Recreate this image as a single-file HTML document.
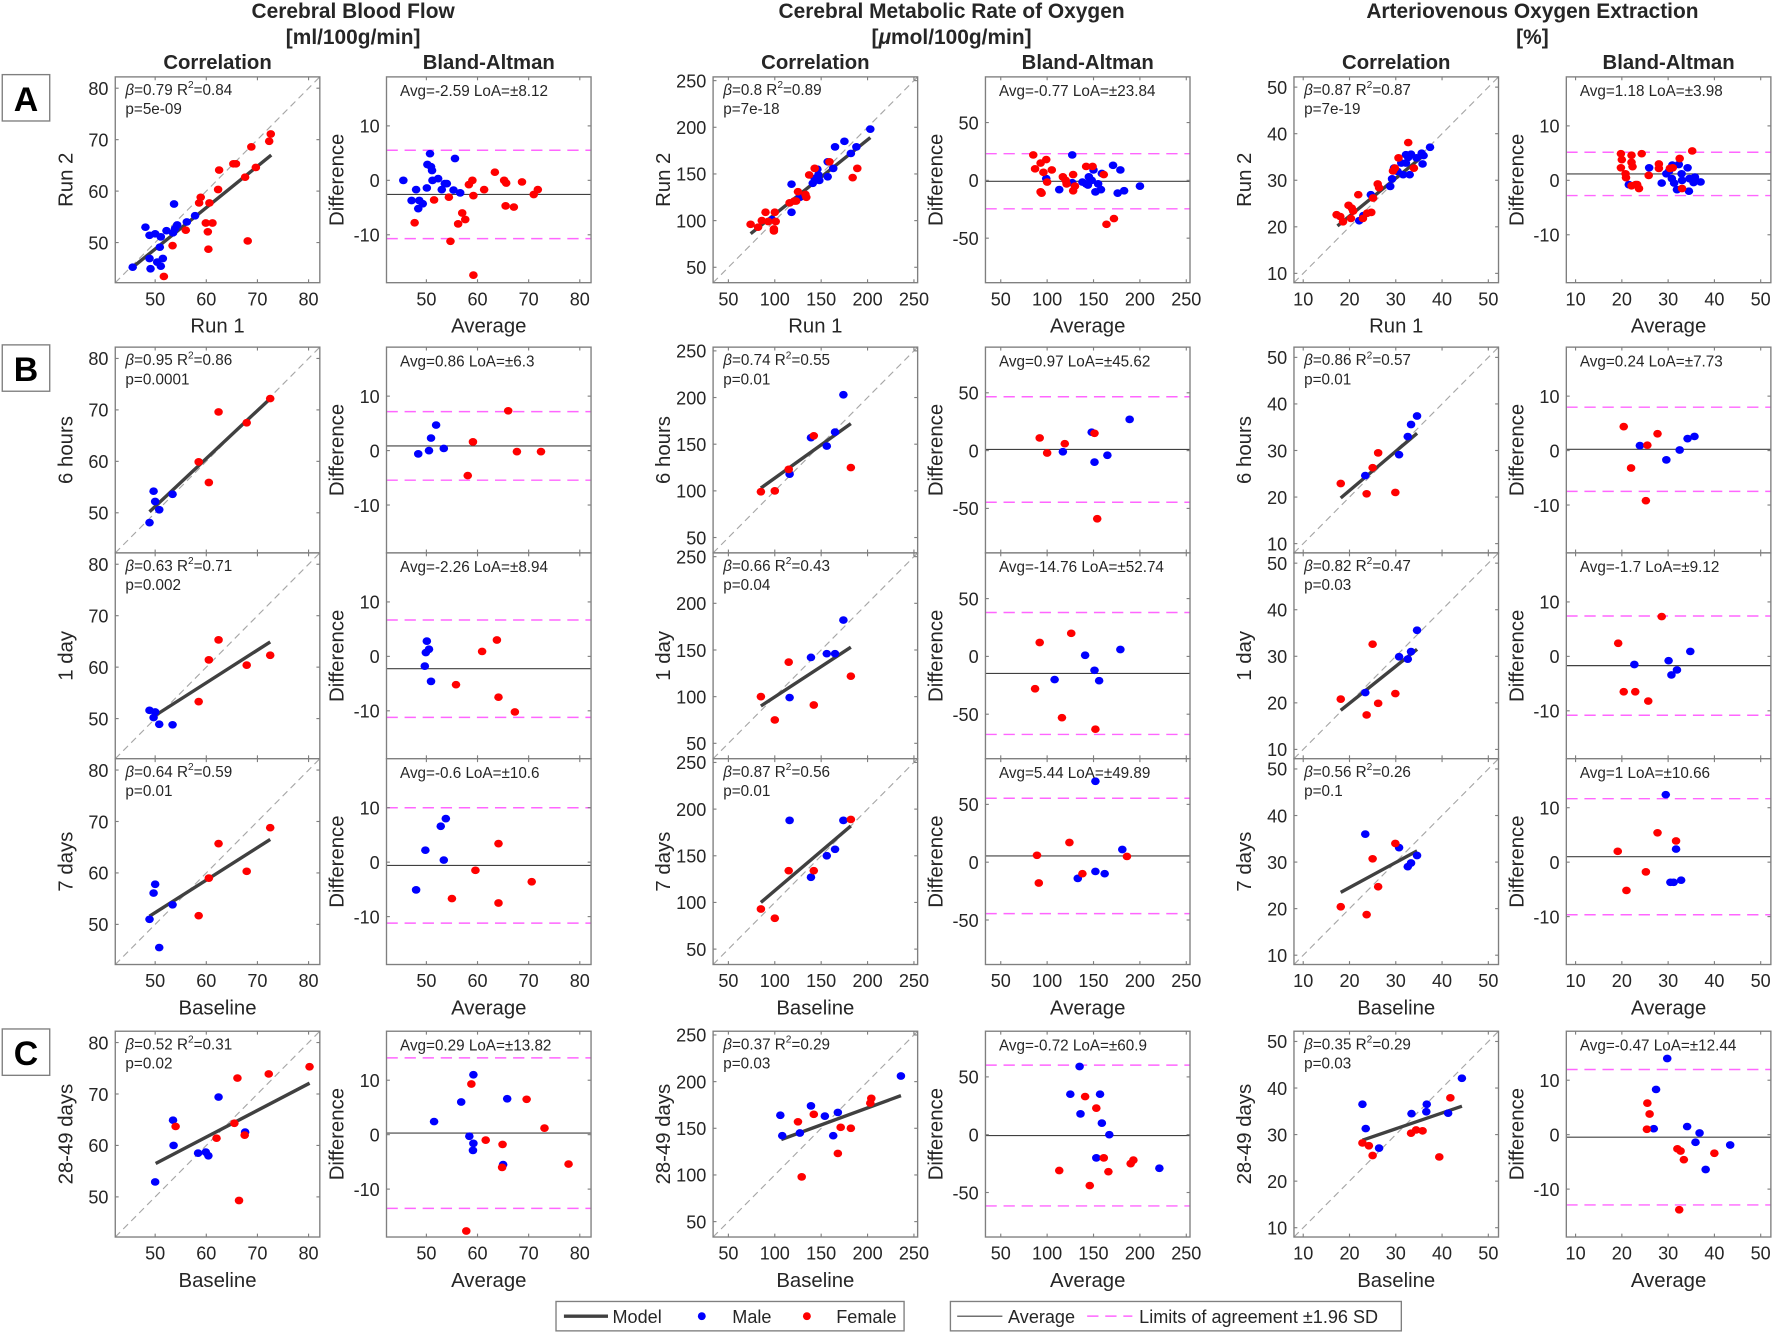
<!DOCTYPE html>
<html><head><meta charset="utf-8"><style>
html,body{margin:0;padding:0;background:#fff;}
svg{display:block;}
text{font-family:"Liberation Sans",Arial,sans-serif;fill:#262626;}
</style></head><body>
<svg id="s" width="1772" height="1332" viewBox="0 0 1568 1178" preserveAspectRatio="none" xmlns="http://www.w3.org/2000/svg"></svg>
<script>
const S=document.getElementById('s');let out='';
function T(x,y,s,size,anchor,extra){out+=`<text x="${x}" y="${y}" font-size="${size}" text-anchor="${anchor||'start'}" ${extra||''}>${s}</text>`;}
const cols=[
 {cx:102,bx:342,cr:[42.2,82.2],ct:[50,60,70,80],br:[-18.8,19],bt:[-10,0,10],title:['Cerebral Blood Flow','[ml/100g/min]']},
 {cx:631,bx:872,cr:[33.5,254],ct:[50,100,150,200,250],br:[-88.5,89.5],bt:[-50,0,50],title:['Cerebral Metabolic Rate of Oxygen','[<tspan font-style="italic">μ</tspan>mol/100g/min]']},
 {cx:1145,bx:1386,cr:[8,52.2],ct:[10,20,30,40,50],br:[-18.8,19],bt:[-10,0,10],title:['Arteriovenous Oxygen Extraction','[%]']}
];
const W=181,H=182;
const rows=[{y:68,yl:'Run 2',xl:['Run 1','Average'],xt:true},{y:307,yl:'6 hours',xt:false},{y:489,yl:'1 day',xt:false},{y:671,yl:'7 days',xl:['Baseline','Average'],xt:true},{y:912,yl:'28-49 days',xl:['Baseline','Average'],xt:true}];
// data: [row][col] = {c:{b,r,l,t1,t2},a:{b,r,avg,loa}}
const D=[
[ // row A
 {c:{b:[[45.6,45.2],[48.1,53],[48.9,51.4],[50,51.7],[48.9,46.9],[49.1,44.9],[50.4,46.2],[51.1,45.4],[51.5,46.9],[51.1,51.1],[50.9,49.1],[52.2,52.3],[53.7,57.5],[53.5,51.9],[53.9,52.7],[54.3,53.4],[56.2,54],[57.8,55.2]],
  r:[[51.7,43.4],[53.4,49.4],[56,52.4],[58.6,57.7],[58.9,58.8],[60.6,57.7],[59.9,53.8],[61.2,53.8],[60.3,52.1],[60.4,48.7],[62.3,60.3],[62.5,64.1],[65.3,65.3],[65.8,65.3],[67.6,62.7],[68.1,50.3],[68.8,68.6],[69.7,64.6],[72.3,69.7],[72.6,71.1]],
  l:[45.6,45.2,72.7,67],t:['0.79','0.84','5e-09']},
  a:{b:[[45.5,0],[47.1,-3.7],[48,-1.7],[48.4,-5.2],[48.6,-3.7],[49.3,-4.3],[50.1,-1.4],[50.2,2.9],[50.7,4.9],[50.9,2.5],[51.1,1.8],[51.2,0],[52.3,0.3],[53,-1.7],[53.6,-0.6],[54,-0.6],[55.3,-1.8],[55.6,4],[56.6,-2.3]],
  r:[[47.7,-7.8],[51.5,-3.6],[54.4,-3.1],[54.7,-11.2],[56.2,-8],[57,-6],[57.6,-7.2],[58.3,-0.8],[59,0],[59.2,-2.8],[59.2,-17.4],[61.3,-1.7],[63.4,1.5],[65.2,0],[65.5,-4.7],[65.6,-0.5],[67.1,-4.9],[68.7,-0.3],[71,-2.6],[71.8,-1.7]],avg:-2.59,loa:8.12}},
 {c:{b:[[97,101],[118,139],[118,109],[127,125],[141,140],[143,145],[147,149],[148,143],[146,155],[157,147],[157,163],[163,156],[165,179],[175,185],[182,172],[188,179],[203,198]],
  r:[[74,96],[82,93],[86,100],[90,109],[93,99],[99,89],[99,91],[100,109],[101,99],[116,119],[121,121],[123,121],[125,131],[133,128],[134,125],[137,149],[143,156],[159,163],[184,146],[189,156]],
  l:[74,86,203,189],t:['0.8','0.89','7e-18']},
  a:{b:[[99,1.5],[113,-8],[127,22],[127,-2],[138,-1.5],[142,-3],[145,3],[144,-4],[148,0],[150,9],[152,-10],[155,-3],[158,-8],[159,6],[171,13],[176,-11],[179,9],[183,-9],[200,-5]],
  r:[[85,22],[87,10],[93,15],[96,7],[99,18],[100,-1.5],[93,-10],[94,-11],[105,9],[117,3],[120,0],[121,-3],[128,5],[128,-9],[130,-5],[142,12],[149,12],[161,5],[164,-38],[172,-33]],avg:-0.77,loa:23.84}},
 {c:{b:[[22.1,21.3],[23,22.4],[24.6,26.9],[28.8,28.7],[29.2,30.3],[29.6,32.6],[30.4,31.9],[31.2,33.7],[31.6,31.2],[32.2,33.7],[32.7,34.9],[33,31.2],[33.3,35.6],[34.5,34.8],[35.6,35.8],[35.8,33.5],[36,35.3],[37.4,37.1],[32.2,35.5]],
  r:[[17.2,22.6],[18,22.2],[18.6,21.1],[19.8,24.6],[20.3,21.8],[20.5,24],[20.8,23.4],[21.9,26.9],[22.9,21.8],[23.8,22.9],[24.7,23.1],[25.1,26.2],[26.1,29.2],[26.4,28.4],[29.4,32],[29.8,32.6],[30.6,34.8],[32.7,38.1],[33.9,32.6]],
  l:[17.4,20.2,36,35.3],t:['0.87','0.87','7e-19']},
  a:{b:[[21.5,-0.8],[25.9,2.3],[28.6,-0.5],[29.6,1.2],[30.2,1.7],[30.8,0.3],[31.3,-0.5],[30.9,2.8],[31.9,-1.7],[32.3,2.9],[32.9,1.2],[33,0],[34.2,2.3],[34.5,-2],[34.6,0.3],[35.5,-0.4],[35.8,0.6],[37,-0.3]],
  r:[[19.8,4.9],[20,3.8],[19.8,2.3],[20.8,1.2],[20.9,0.5],[22.1,4.6],[22.1,3.3],[22.3,2.5],[22.1,-1],[23,-0.8],[23.3,-0.8],[23.7,-1.5],[24.3,4.9],[25.8,0.9],[28,3],[28,2.2],[30.4,2.2],[31,2.3],[32.5,4],[33,-1.5],[35.2,5.4]],avg:1.18,loa:3.98}}
],
[ // 6 hours
 {c:{b:[[48.9,48.1],[49.7,54.2],[50,52.2],[50.8,50.6],[53.4,53.6]],r:[[58.5,59.9],[60.5,55.9],[62.4,69.6],[67.9,67.5],[72.5,72.2]],l:[48.9,50.2,72.5,72.2],t:['0.95','0.86','0.0001']},
  a:{b:[[48.4,-0.6],[50.5,0],[50.9,2.3],[51.9,4.7],[53.4,0.4]],r:[[58.1,-4.6],[59.1,1.6],[66,7.3],[67.7,-0.2],[72.4,-0.2]],avg:0.86,loa:6.3}},
 {c:{b:[[116,118],[139,157],[156,148],[165,163],[174,203]],r:[[85,99],[100,100],[115,123],[142,159],[182,125]],l:[85,103,182,172],t:['0.74','0.55','0.01']},
  a:{b:[[117,-1],[148,16],[151,-10],[165,-4],[189,27]],r:[[92,11],[100,-2],[119,6],[151,15],[154,-59]],avg:0.97,loa:45.62}},
 {c:{b:[[23.4,24.6],[30.7,29.1],[32.6,33],[33.3,35.6],[34.6,37.4]],r:[[18.1,22.9],[23.7,20.7],[25,26.3],[26.2,29.5],[29.9,21]],l:[18.1,19.8,34.6,33.7],t:['0.86','0.57','0.01']},
  a:{b:[[23.9,0.9],[29.6,-1.7],[32.5,0.1],[34.2,2.2],[35.7,2.6]],r:[[20.4,4.4],[22,-3.2],[25.2,-9.2],[25.5,1],[27.7,3.1]],avg:0.24,loa:7.73}}
],
[ // 1 day
 {c:{b:[[48.9,51.6],[50,51.3],[49.7,50.2],[50.8,48.9],[53.4,48.8]],r:[[58.5,53.3],[60.5,61.4],[62.4,65.3],[67.9,60.4],[72.5,62.3]],l:[50,50.6,72.5,64.9],t:['0.63','0.71','0.002']},
  a:{b:[[49.7,-1.8],[49.9,0.7],[50.1,2.8],[50.5,1.3],[50.9,-4.6]],r:[[55.8,-5.2],[60.9,0.9],[63.8,3],[64.1,-7.5],[67.3,-10.2]],avg:-2.26,loa:8.94}},
 {c:{b:[[116,99],[139,142],[156,146],[165,146],[174,182]],r:[[85,100],[100,75],[115,137],[142,91],[182,122]],l:[85,90,182,153],t:['0.66','0.43','0.04']},
  a:{b:[[108,-20],[141,1],[151,-12],[156,-21],[179,6]],r:[[87,-28],[92,12],[116,-53],[126,20],[152,-63]],avg:-14.76,loa:52.74}},
 {c:{b:[[23.4,22.2],[30.7,29.9],[32.6,29.4],[33.3,31],[34.6,35.6]],r:[[18.1,20.8],[23.7,17.4],[25,32.6],[26.2,19.9],[29.9,22]],l:[18.1,18.4,34.6,31.5],t:['0.82','0.47','0.03']},
  a:{b:[[22.7,-1.5],[30.1,-0.8],[30.7,-3.4],[31.9,-2.5],[34.8,0.9]],r:[[19.2,2.4],[20.4,-6.5],[22.9,-6.5],[25.7,-8.2],[28.6,7.3]],avg:-1.7,loa:9.12}}
],
[ // 7 days
 {c:{b:[[48.9,51],[49.7,56.1],[50,57.8],[53.4,53.8],[50.8,45.5]],r:[[58.5,51.7],[60.5,59],[62.4,65.7],[67.9,60.3],[72.5,68.8]],l:[48.9,51.6,72.5,66.5],t:['0.64','0.59','0.01']},
  a:{b:[[48,-5.1],[49.8,2.2],[52.8,6.6],[53.8,8],[53.4,0.4]],r:[[55,-6.7],[59.6,-1.5],[64.1,3.4],[64.1,-7.5],[70.6,-3.6]],avg:-0.6,loa:10.6}},
 {c:{b:[[116,188],[139,127],[156,150],[165,157],[174,188]],r:[[85,93],[100,83],[115,134],[142,134],[182,189]],l:[85,100,182,182],t:['0.87','0.56','0.01']},
  a:{b:[[133,-14],[152,70],[152,-8],[162,-10],[181,11]],r:[[89,6],[91,-18],[124,17],[138,-10],[186,5]],avg:5.44,loa:49.89}},
 {c:{b:[[23.4,36],[30.7,33.1],[32.6,29],[33.3,29.8],[34.6,31.4]],r:[[18.1,20.4],[23.7,18.7],[25,30.7],[26.2,24.7],[29.9,34]],l:[18.1,23.5,34.6,32.4],t:['0.56','0.26','0.1']},
  a:{b:[[29.5,12.4],[31.7,2.4],[30.5,-3.7],[31.2,-3.7],[32.8,-3.3]],r:[[19.1,2],[21,-5.2],[25.2,-1.8],[27.7,5.4],[31.7,3.9]],avg:1,loa:10.66}}
],
[ // C
 {c:{b:[[50,52.9],[53.5,64.9],[53.6,60],[58.4,58.5],[59.9,58.7],[60.4,58],[62.4,69.4],[67.6,62.6]],r:[[54,63.7],[62,61.4],[65.5,64.3],[66.1,73.1],[66.4,49.3],[67.5,62],[72.2,73.9],[80.2,75.3]],l:[50.1,56.5,80.2,72.1],t:['0.52','0.31','0.02']},
  a:{b:[[51.5,2.4],[56.8,6],[58.4,-0.3],[59.2,11],[59.2,-1.6],[59.1,-2.9],[65,-5.5],[65.8,6.6]],r:[[58.8,9.3],[57.8,-17.7],[61.6,-1],[64.9,-1.8],[64.8,-6],[69.6,6.5],[73.1,1.2],[77.8,-5.4]],avg:0.29,loa:13.82}},
 {c:{b:[[106,164],[108,142],[127,145],[139,174],[154,163],[163,142],[168,167],[236,206]],r:[[125,157],[129,98],[142,165],[168,123],[171,151],[182,150],[203,177],[204,182]],l:[107,138,236,185],t:['0.37','0.29','0.03']},
  a:{b:[[135,59],[125,35],[136,18],[157,35],[159,10],[167,0],[153,-20],[221,-29]],r:[[113,-31],[141,33],[153,23],[146,-44],[161,-20],[166,-32],[190,-25],[193,-22]],avg:-0.72,loa:60.9}},
 {c:{b:[[22.8,36.5],[23.5,31.3],[26.4,27.1],[33.4,34.5],[36.7,36.5],[36.6,34.9],[41.3,34.6],[44.3,42.1]],r:[[22.8,28.2],[24.2,27.6],[25,25.5],[33.3,30.3],[34.4,31],[35.8,30.8],[39.4,25.2],[41.8,37.9]],l:[22.8,28.8,44.3,36.1],t:['0.35','0.29','0.03']},
  a:{b:[[29.8,14],[27.4,8.3],[26.9,1.1],[34.1,1.5],[36.8,0.3],[35.9,-1.4],[43.4,-1.9],[38.1,-6.4]],r:[[25.5,5.8],[26,3.8],[25.4,1],[32,-2.6],[32.7,-3],[33.4,-4.6],[40,-3.4],[32.4,-13.8]],avg:-0.47,loa:12.44}}
]];
const ax='#262626',frame='#7f7f7f';
function panel(x0,y0,xr,yr,xt,yt,showX,draw){
  const X=v=>x0+(v-xr[0])/(xr[1]-xr[0])*W, Y=v=>y0+H-(v-yr[0])/(yr[1]-yr[0])*H;
  out+=`<rect x="${x0}" y="${y0}" width="${W}" height="${H}" fill="#fff"/>`;
  draw(X,Y);
  out+=`<rect x="${x0}" y="${y0}" width="${W}" height="${H}" fill="none" stroke="${frame}" stroke-width="1.2"/>`;
  xt.forEach(v=>{const x=X(v);out+=`<line x1="${x}" y1="${y0+H}" x2="${x}" y2="${y0+H-3}" stroke="${frame}"/><line x1="${x}" y1="${y0}" x2="${x}" y2="${y0+3}" stroke="${frame}"/>`;
    if(showX)T(x,y0+H+20,v,16,'middle');});
  yt.forEach(v=>{const y=Y(v);out+=`<line x1="${x0}" y1="${y}" x2="${x0+3}" y2="${y}" stroke="${frame}"/><line x1="${x0+W}" y1="${y}" x2="${x0+W-3}" y2="${y}" stroke="${frame}"/>`;
    T(x0-6,y+6,v,16,'end');});
}
function dots(X,Y,arr,col){arr.forEach(p=>{out+=`<ellipse cx="${X(p[0]).toFixed(1)}" cy="${Y(p[1]).toFixed(1)}" rx="3.8" ry="3.4" fill="${col}"/>`;});}
// titles
cols.forEach(c=>{const mid=(c.cx+c.bx+W)/2;
  T(mid,16,c.title[0],18.5,'middle','font-weight="bold"');T(mid,39,c.title[1],18.5,'middle','font-weight="bold"');
  T(c.cx+W/2,61,'Correlation',18,'middle','font-weight="bold"');T(c.bx+W/2,61,'Bland-Altman',18,'middle','font-weight="bold"');});
// panel labels
[['A',66],['B',305],['C',910]].forEach(([s,y])=>{out+=`<rect x="2" y="${y}" width="42" height="41" fill="#fff" stroke="${frame}" stroke-width="1.2"/>`;T(23,y+32,s,30,'middle','font-weight="bold" style="fill:#000"');});
rows.forEach((r,ri)=>{cols.forEach((c,ci)=>{const d=D[ri][ci];
  panel(c.cx,r.y,c.cr,c.cr,c.ct,c.ct,r.xt,(X,Y)=>{
    out+=`<line x1="${X(c.cr[0])}" y1="${Y(c.cr[0])}" x2="${X(c.cr[1])}" y2="${Y(c.cr[1])}" stroke="#a6a6a6" stroke-width="1" stroke-dasharray="6,4"/>`;
    const l=d.c.l;out+=`<line x1="${X(l[0])}" y1="${Y(l[1])}" x2="${X(l[2])}" y2="${Y(l[3])}" stroke="#404040" stroke-width="3"/>`;
    dots(X,Y,d.c.b,'#0000ff');dots(X,Y,d.c.r,'#ff0000');
  });
  const t=d.c.t;
  out+=`<text x="${c.cx+9}" y="${r.y+16}" font-size="13.5"><tspan font-style="italic">β</tspan>=${t[0]} R<tspan dy="-6" font-size="9">2</tspan><tspan dy="6">=${t[1]}</tspan></text>`;
  T(c.cx+9,r.y+33,'p='+t[2],13.5);
  panel(c.bx,r.y,c.cr,c.br,c.ct,c.bt,r.xt,(X,Y)=>{
    const a=d.a;
    out+=`<line x1="${c.bx}" y1="${Y(a.avg)}" x2="${c.bx+W}" y2="${Y(a.avg)}" stroke="#404040" stroke-width="1"/>`;
    [a.avg+a.loa,a.avg-a.loa].forEach(v=>{out+=`<line x1="${c.bx}" y1="${Y(v)}" x2="${c.bx+W}" y2="${Y(v)}" stroke="#ff66ff" stroke-width="1.3" stroke-dasharray="10,6"/>`;});
    dots(X,Y,a.b,'#0000ff');dots(X,Y,a.r,'#ff0000');
  });
  T(c.bx+12,r.y+17,`Avg=${d.a.avg} LoA=±${d.a.loa}`,13.5);
  // axis labels
  T(0,0,r.yl,18,'middle',`transform="translate(${c.cx-38},${r.y+H/2}) rotate(-90)"`);
  T(0,0,'Difference',18,'middle',`transform="translate(${c.bx-38},${r.y+H/2}) rotate(-90)"`);
  if(r.xl){T(c.cx+W/2,r.y+H+44,r.xl[0],18,'middle');T(c.bx+W/2,r.y+H+44,r.xl[1],18,'middle');}
});});
// legends
out+=`<rect x="492" y="1151" width="308" height="26" fill="#fff" stroke="${frame}" stroke-width="1.2"/>`;
out+=`<line x1="499" y1="1164" x2="538" y2="1164" stroke="#404040" stroke-width="3"/>`;T(542,1170,'Model',16);
out+=`<circle cx="621" cy="1164" r="3.5" fill="#0000ff"/>`;T(648,1170,'Male',16);
out+=`<circle cx="714" cy="1164" r="3.5" fill="#ff0000"/>`;T(740,1170,'Female',16);
out+=`<rect x="841" y="1151" width="399" height="26" fill="#fff" stroke="${frame}" stroke-width="1.2"/>`;
out+=`<line x1="847" y1="1164" x2="887" y2="1164" stroke="#404040" stroke-width="1"/>`;T(892,1170,'Average',16);
out+=`<line x1="962" y1="1164" x2="1002" y2="1164" stroke="#ff66ff" stroke-width="1.3" stroke-dasharray="10,6"/>`;T(1008,1170,'Limits of agreement ±1.96 SD',16);
S.innerHTML=out;
</script>
</body></html>
